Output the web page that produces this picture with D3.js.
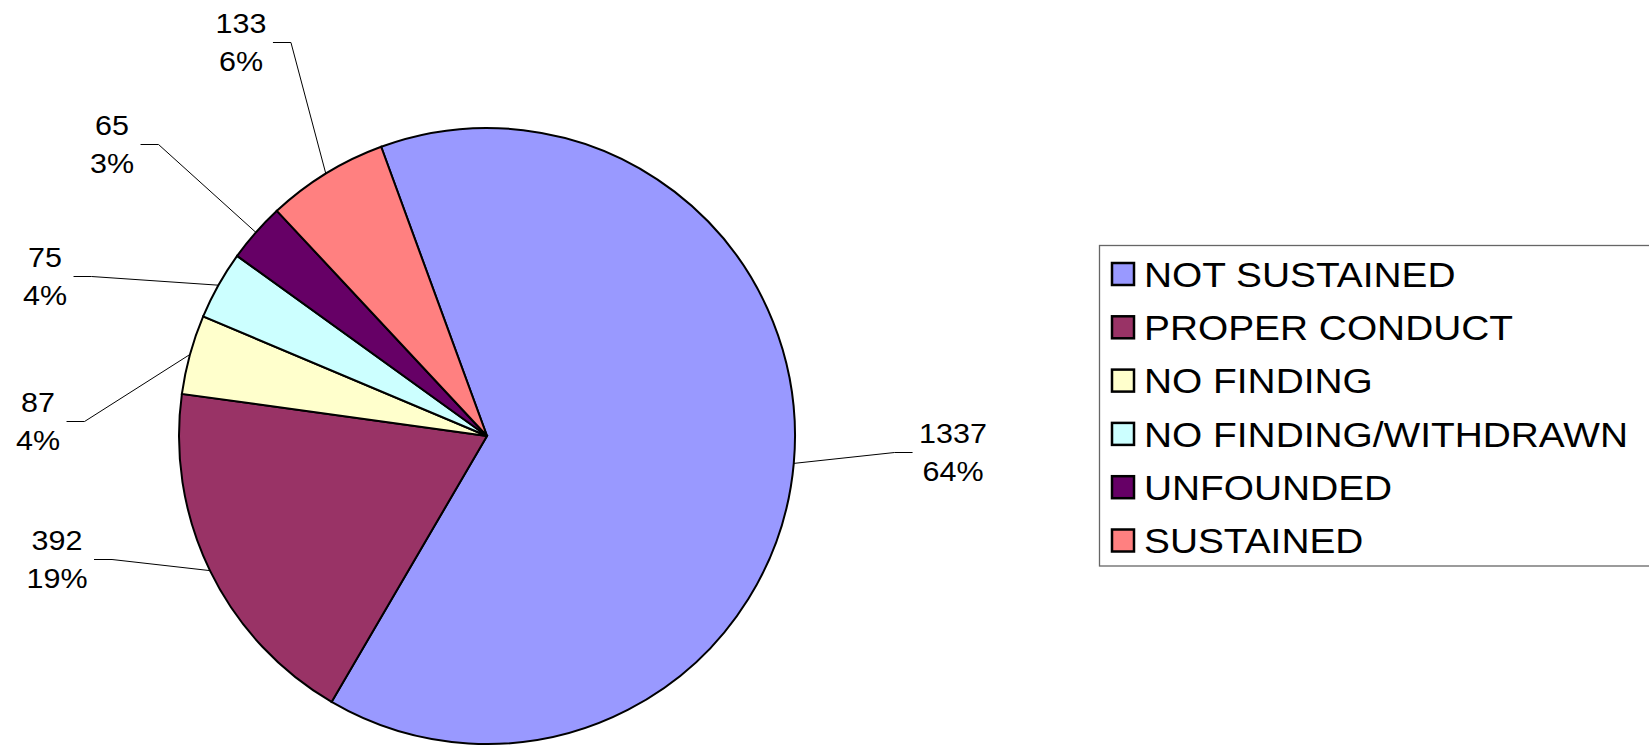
<!DOCTYPE html>
<html>
<head>
<meta charset="utf-8">
<script src="https://cdn.jsdelivr.net/npm/d3@7"></script>
<style>
  html, body { margin: 0; padding: 0; background: #fff; }
  svg { display: block; }
  text { font-family: "Liberation Sans", Arial, sans-serif; fill: #000; }
</style>
</head>
<body>
<svg id="chart" width="1649" height="751"></svg>
<script>
// ---- data ----
const categories = ["NOT SUSTAINED", "PROPER CONDUCT", "NO FINDING", "NO FINDING/WITHDRAWN", "UNFOUNDED", "SUSTAINED"];
const values = [1337, 392, 87, 75, 65, 133];
const colors = ["#9999FF", "#993366", "#FFFFCC", "#CCFFFF", "#660066", "#FF8080"];

// ---- layout ----
const W = 1649, H = 751;
const cx = 487, cy = 436, R = 308;
const startDeg = -20.1;
// label text anchor (centre x, first baseline y) per slice, as placed in the reference
const labelAt = [[953, 443], [57, 550], [38, 412], [45, 267], [112, 135], [241, 33]];
const labelFont = 28, labelStretch = 1.09, lineGap = 38.5;
const legendFont = 35, legendStretch = 1.11;

const svg = d3.select("#chart");
const total = d3.sum(values);
const data = categories.map((c, i) => ({ name: c, value: values[i], color: colors[i] }));

const pie = d3.pie().sort(null).value(d => d.value)
  .startAngle(startDeg * Math.PI / 180)
  .endAngle(startDeg * Math.PI / 180 + 2 * Math.PI);
const arcs = pie(data);
const arc = d3.arc().innerRadius(0).outerRadius(R);

const g = svg.append("g").attr("transform", `translate(${cx},${cy})`);
g.selectAll("path.slice").data(arcs).enter().append("path")
  .attr("class", "slice")
  .attr("d", arc)
  .attr("fill", d => d.data.color)
  .attr("stroke", "#000")
  .attr("stroke-width", 2)
  .attr("stroke-linejoin", "miter");

// labels + leader lines
const fmtPct = v => Math.round(v / total * 100) + "%";
const labels = svg.append("g");
arcs.forEach((a, i) => {
  const [lx, ly] = labelAt[i];
  const tg = labels.append("g").attr("transform", `translate(${lx},0) scale(${labelStretch},1)`);
  const t = tg.append("text")
    .attr("text-anchor", "middle")
    .attr("font-size", labelFont);
  t.append("tspan").attr("x", 0).attr("y", ly).text(a.data.value);
  t.append("tspan").attr("x", 0).attr("y", ly + lineGap).text(fmtPct(a.data.value));
  const bw = t.node().getBBox().width * labelStretch;
  const mid = (a.startAngle + a.endAngle) / 2;
  const px = cx + R * Math.sin(mid), py = cy - R * Math.cos(mid);
  const right = px > lx;
  const ex = right ? lx + bw / 2 + 6.5 : lx - bw / 2 - 6.5;
  const ey = ly + 9.5;
  const kx = right ? ex + 18 : ex - 18;
  labels.append("polyline")
    .attr("points", [[ex, ey], [kx, ey], [px, py]].map(p => p.join(",")).join(" "))
    .attr("fill", "none")
    .attr("stroke", "#000")
    .attr("stroke-width", 1);
});

// legend
const lg = svg.append("g");
lg.append("rect")
  .attr("x", 1099.5).attr("y", 245.5)
  .attr("width", 600).attr("height", 320.5)
  .attr("fill", "#fff")
  .attr("stroke", "#666")
  .attr("stroke-width", 1.3);
const rowY = d3.scaleLinear().domain([0, 1]).range([286.7, 340]);
data.forEach((d, i) => {
  const y = rowY(i);
  lg.append("rect")
    .attr("x", 1112).attr("y", y - 23.7)
    .attr("width", 22).attr("height", 22)
    .attr("fill", d.color)
    .attr("stroke", "#000")
    .attr("stroke-width", 2.5);
  lg.append("g").attr("transform", `translate(1144,${y}) scale(${legendStretch},1)`)
    .append("text")
    .attr("x", 0).attr("y", 0)
    .attr("font-size", legendFont)
    .text(d.name);
});
</script>
</body>
</html>
